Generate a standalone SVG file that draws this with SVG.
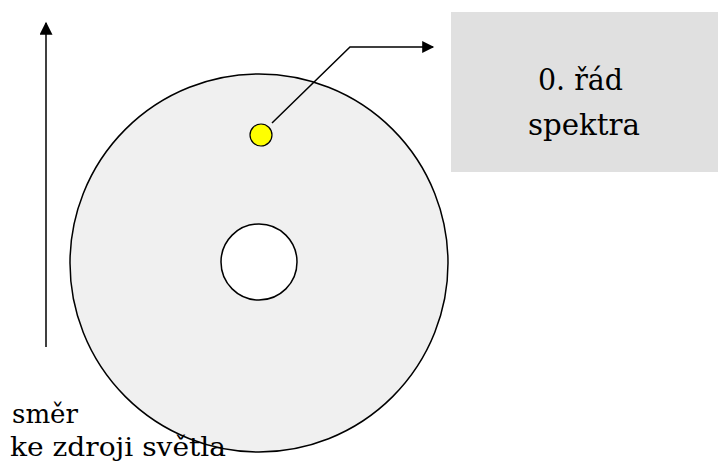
<svg xmlns="http://www.w3.org/2000/svg" width="718" height="467" viewBox="0 0 718 467">
<style>
.s{font-family:'DejaVu Serif',serif;fill:#000}
.ln{stroke:#000;stroke-width:1.5;fill:none}
</style>
<defs>
<marker id="ah" viewBox="0 0 10 10" refX="9" refY="5" markerWidth="14" markerHeight="12" markerUnits="userSpaceOnUse" orient="auto"><path d="M0,0L10,5L0,10z" fill="#000"/></marker>
<marker id="ah2" viewBox="0 0 10 10" refX="9" refY="5" markerWidth="14" markerHeight="13" markerUnits="userSpaceOnUse" orient="auto"><path d="M0,0L10,5L0,10z" fill="#000"/></marker>
</defs>
<rect width="718" height="467" fill="#fff"/>
<g id="disc">
<circle cx="259" cy="263" r="189" fill="#f0f0f0" stroke="#000" stroke-width="1.5"/>
<circle cx="259" cy="262" r="38" fill="#fff" stroke="#000" stroke-width="1.5"/>
</g>
<g id="spot"><circle cx="261" cy="135" r="11" fill="#ffff00" stroke="#000" stroke-width="1.2"/></g>
<g id="box">
<rect x="451" y="12" width="267" height="160" fill="#e0e0e0"/>
<text class="s" x="538" y="90" font-size="30" textLength="85" lengthAdjust="spacingAndGlyphs">0. řád</text>
<text class="s" x="528" y="135" font-size="30" textLength="112" lengthAdjust="spacingAndGlyphs">spektra</text>
</g>
<g id="label">
<text class="s" x="12" y="423" font-size="26" textLength="66" lengthAdjust="spacingAndGlyphs">směr</text>
<text class="s" x="10" y="456" font-size="26" textLength="216" lengthAdjust="spacingAndGlyphs">ke zdroji světla</text>
</g>
<g id="connectors">
<line class="ln" x1="46" y1="347" x2="46" y2="23" stroke-width="2.5" marker-end="url(#ah2)"/>
<polyline class="ln" points="272,123 350,47 433,47" marker-end="url(#ah)"/>
</g>
</svg>
